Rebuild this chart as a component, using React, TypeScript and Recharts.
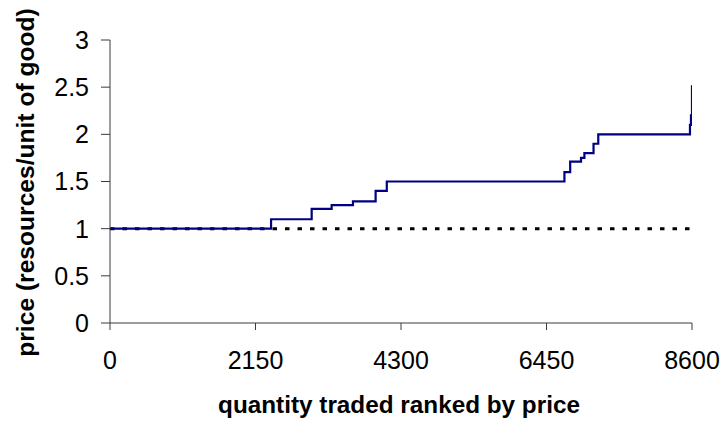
import { LineChart, Line, XAxis, YAxis, ReferenceLine, Label } from "recharts";

// quantity traded (cumulative) where the price changes, and the price from there on
const quantities = [0, 2380, 2980, 3275, 3590, 3925, 4090, 6715, 6800, 6960, 7010, 7145, 7215, 8570, 8585, 8600];
const prices = [1, 1.1, 1.21, 1.25, 1.29, 1.4, 1.5, 1.6, 1.71, 1.75, 1.8, 1.9, 2.0, 2.1, 2.2, 2.52];

const xTicks = [0, 2150, 4300, 6450, 8600];
const yTicks = [0, 0.5, 1, 1.5, 2, 2.5, 3];
const benchmarkPrice = 1;

const font = "'Liberation Sans', Arial, sans-serif";
const axisColor = "#3a3a3a";

const data = quantities.map((q, i) => ({ q, price: prices[i] }));

// eslint-disable-next-line @typescript-eslint/no-explicit-any
const XTitle = ({ viewBox }: any) => (
  <text
    x={viewBox.x + viewBox.width / 2 - 2}
    y={viewBox.y + 90}
    textAnchor="middle"
    fontFamily={font}
    fontSize={24.3}
    fontWeight="bold"
    fill="#000"
  >
    quantity traded ranked by price
  </text>
);

// eslint-disable-next-line @typescript-eslint/no-explicit-any
const YTitle = ({ viewBox }: any) => {
  const cx = viewBox.x + 34;
  const cy = viewBox.y + viewBox.height / 2 + 1;
  return (
    <text
      x={cx}
      y={cy}
      transform={`rotate(-90 ${cx} ${cy})`}
      textAnchor="middle"
      fontFamily={font}
      fontSize={24.6}
      fontWeight="bold"
      fill="#000"
    >
      price (resources/unit of good)
    </text>
  );
};

export default function App() {
  return (
    <div style={{ position: "absolute", left: 0, top: 0, background: "#fff" }}>
      <LineChart
        width={722}
        height={421}
        data={data}
        margin={{ top: 40, right: 30, left: 0, bottom: 0 }}
        style={{ fontFamily: font }}
      >
        <XAxis
          dataKey="q"
          type="number"
          domain={[0, 8600]}
          ticks={xTicks}
          height={98}
          tickSize={7}
          tickMargin={21}
          stroke={axisColor}
          tick={{ fill: "#000", fontSize: 25, fontFamily: font }}
          allowDataOverflow
        >
          <Label content={<XTitle />} />
        </XAxis>
        <YAxis
          type="number"
          domain={[0, 3]}
          ticks={yTicks}
          width={110}
          tickSize={9}
          tickMargin={12}
          stroke={axisColor}
          tick={{ fill: "#000", fontSize: 25, fontFamily: font }}
        >
          <Label content={<YTitle />} />
        </YAxis>
        <ReferenceLine
          y={benchmarkPrice}
          stroke="#000"
          strokeWidth={3}
          strokeDasharray="4.5 8"
        />
        <Line
          type="stepAfter"
          dataKey="price"
          stroke="#000080"
          strokeWidth={2.2}
          dot={false}
          isAnimationActive={false}
        />
      </LineChart>
    </div>
  );
}
